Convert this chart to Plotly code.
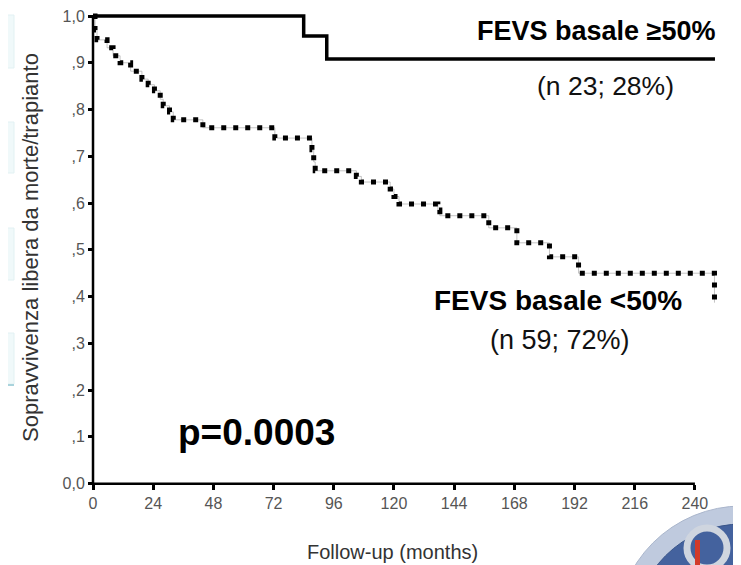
import plotly.graph_objects as go

# ---------------- data ----------------
good_t = [0, 84.0, 93.2, 248.0]
good_s = [1.0, 0.957, 0.908, 0.908]

poor_t = [0, 0.8, 1.6, 5.6, 8.0, 10.8, 15.0, 19.5, 22.0, 24.5, 26.8, 28.0, 30.5, 32.0,
          43.8, 72.5, 87.3, 88.0, 88.6, 105.0, 107.0, 118.5, 120.0, 122.0, 137.5, 138.3,
          157.8, 169.0, 182.0, 193.6, 247.8]
poor_s = [1.0, 0.970, 0.949, 0.932, 0.915, 0.900, 0.882, 0.865, 0.853, 0.840, 0.822, 0.808, 0.795, 0.778,
          0.761, 0.739, 0.714, 0.688, 0.669, 0.657, 0.645, 0.630, 0.614, 0.598, 0.585, 0.573,
          0.547, 0.515, 0.485, 0.450, 0.387]

x_ticks = [0, 24, 48, 72, 96, 120, 144, 168, 192, 216, 240]
y_ticks = [0.0, 0.1, 0.2, 0.3, 0.4, 0.5, 0.6, 0.7, 0.8, 0.9, 1.0]
y_ticktext = ["0,0", ",1", ",2", ",3", ",4", ",5", ",6", ",7", ",8", ",9", "1,0"]

x_range = [-1.2, 250]
y_range = [-0.02, 1.015]

# ---------------- layout geometry ----------------
# the page body has an 8px margin, so the figure is drawn 8px in from the corner
OFF = 8
WIDTH, HEIGHT = 741 - OFF, 565 - OFF
L, R, T, B = 82, 21, 1, 72
W = WIDTH - L - R
H = HEIGHT - T - B


def px(xp):
    """reference-picture x pixel -> paper coordinate"""
    return (xp - OFF - L) / W


def py(yp):
    """reference-picture y pixel -> paper coordinate"""
    return 1 - (yp - OFF - T) / H


FONT = "Liberation Sans, Arial, sans-serif"

fig = go.Figure()

# faint connecting line under the dotted curve
fig.add_trace(go.Scatter(x=poor_t, y=poor_s, mode="lines", line_shape="hv",
                         line=dict(color="#aaaaaa", width=0.7), hoverinfo="skip", showlegend=False))
fig.add_trace(go.Scatter(x=poor_t, y=poor_s, mode="lines", line_shape="hv",
                         line=dict(color="black", width=5, dash="5px,7px"),
                         name="FEVS basale <50%", showlegend=False))
fig.add_trace(go.Scatter(x=good_t, y=good_s, mode="lines", line_shape="hv",
                         line=dict(color="black", width=3.5),
                         name="FEVS basale ≥50%", showlegend=False))

shapes = []
# axis lines
shapes.append(dict(type="line", xref="x", yref="y", x0=0, x1=0, y0=0, y1=1.0,
                   line=dict(color="black", width=2.5), layer="above"))
shapes.append(dict(type="line", xref="x", yref="y", x0=0, x1=240, y0=0, y1=0,
                   line=dict(color="black", width=2.5), layer="above"))

# slide background decorations on the left edge
for (ya, yb) in [(15, 68), (122, 173), (228, 280), (333, 384)]:
    shapes.append(dict(type="rect", xref="paper", yref="paper",
                       x0=px(-2), x1=px(14), y0=py(yb), y1=py(ya),
                       fillcolor="#f0f9fa", line=dict(color="#e2f1f3", width=1), layer="below"))
shapes.append(dict(type="line", xref="paper", yref="paper", x0=px(0), x1=px(14),
                   y0=py(385), y1=py(385), line=dict(color="#a9d3dc", width=2)))

# logo in the bottom-right corner
cx, cy = 742, 632
shapes.append(dict(type="circle", xref="paper", yref="paper",
                   x0=px(cx - 126), x1=px(cx + 126), y0=py(cy + 126), y1=py(cy - 126),
                   fillcolor="#bfcade", line=dict(color="#aab6cc", width=1), layer="above"))
shapes.append(dict(type="circle", xref="paper", yref="paper",
                   x0=px(cx - 108), x1=px(cx + 108), y0=py(cy + 108), y1=py(cy - 108),
                   fillcolor="#44629e", line=dict(color="#385489", width=1), layer="above"))
shapes.append(dict(type="circle", xref="paper", yref="paper",
                   x0=px(cx - 55), x1=px(cx - 15), y0=py(568), y1=py(528),
                   fillcolor="rgba(0,0,0,0)", line=dict(color="#cfd5df", width=7), layer="above"))
shapes.append(dict(type="rect", xref="paper", yref="paper",
                   x0=px(695), x1=px(700), y0=py(566), y1=py(540),
                   fillcolor="#d23a2a", line=dict(width=0), layer="above"))

annotations = [
    dict(text="<b>FEVS basale ≥50%</b>", x=px(717), y=py(31), xref="paper", yref="paper",
         xanchor="right", yanchor="middle", showarrow=False,
         font=dict(family=FONT, size=27, color="black")),
    dict(text="(n 23; 28%)", x=px(676), y=py(86), xref="paper", yref="paper",
         xanchor="right", yanchor="middle", showarrow=False,
         font=dict(family=FONT, size=26.5, color="#111111")),
    dict(text="<b>FEVS basale <50%</b>", x=px(684), y=py(300), xref="paper", yref="paper",
         xanchor="right", yanchor="middle", showarrow=False,
         font=dict(family=FONT, size=28, color="black")),
    dict(text="(n 59; 72%)", x=px(560), y=py(340), xref="paper", yref="paper",
         xanchor="center", yanchor="middle", showarrow=False,
         font=dict(family=FONT, size=27, color="#111111")),
    dict(text="<b>p=0.0003</b>", x=px(256), y=py(432), xref="paper", yref="paper",
         xanchor="center", yanchor="middle", showarrow=False,
         font=dict(family=FONT, size=37, color="black")),
    dict(text="Sopravvivenza libera da morte/trapianto", x=px(31), y=py(248),
         xref="paper", yref="paper", xanchor="center", yanchor="middle", textangle=-90,
         showarrow=False, font=dict(family=FONT, size=22, color="#333333")),
    dict(text="Follow-up (months)", x=px(392), y=py(552), xref="paper", yref="paper",
         xanchor="center", yanchor="middle", showarrow=False,
         font=dict(family=FONT, size=20, color="#333333")),
]

x_pos = (0 - y_range[0]) / (y_range[1] - y_range[0])
y_pos = (0 - x_range[0]) / (x_range[1] - x_range[0])

fig.update_layout(
    width=WIDTH, height=HEIGHT,
    margin=dict(l=L, r=R, t=T, b=B, pad=0),
    paper_bgcolor="white", plot_bgcolor="white",
    showlegend=False,
    shapes=shapes,
    annotations=annotations,
    xaxis=dict(range=x_range, anchor="free", position=x_pos, showline=False,
               showgrid=False, zeroline=False, tickmode="array", tickvals=x_ticks,
               ticks="outside", ticklen=5, tickwidth=3, tickcolor="black",
               ticklabeloverflow="allow",
               tickfont=dict(family=FONT, size=16, color="#555555")),
    yaxis=dict(range=y_range, anchor="free", position=y_pos, showline=False,
               showgrid=False, zeroline=False, tickmode="array", tickvals=y_ticks,
               ticktext=y_ticktext, ticks="outside", ticklen=5, tickwidth=3,
               tickcolor="black", ticklabeloverflow="allow",
               tickfont=dict(family=FONT, size=16, color="#555555")),
)

fig.write_html("out.html")
